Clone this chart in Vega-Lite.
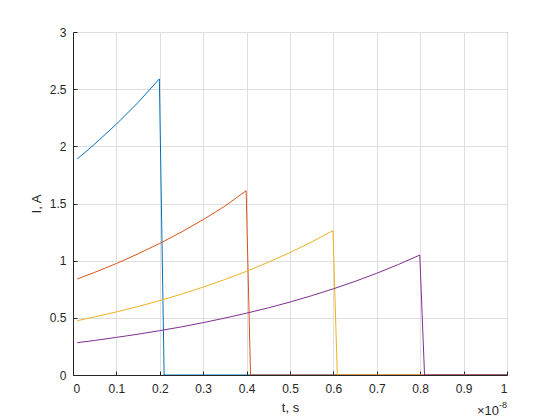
{
  "$schema": "https://vega.github.io/schema/vega-lite/v6.json",
  "width": 434,
  "height": 343,
  "autosize": {"type": "none"},
  "padding": {"left": 73, "top": 32, "right": 53, "bottom": 45},
  "background": "white",
  "config": {
    "font": "Liberation Sans",
    "view": {"stroke": "#262626", "strokeWidth": 1},
    "axis": {
      "domainColor": "#262626",
      "tickColor": "#262626",
      "labelColor": "#262626",
      "titleColor": "#262626",
      "gridColor": "#dfdfdf",
      "labelFontSize": 12,
      "titleFontSize": 13,
      "titleFontWeight": "normal",
      "tickSize": -4
    }
  },
  "datasets": {
    "curves": [
      {"t": 0.01, "I": 1.89, "s": "a"},
      {"t": 0.05, "I": 2.02, "s": "a"},
      {"t": 0.10, "I": 2.194, "s": "a"},
      {"t": 0.15, "I": 2.384, "s": "a"},
      {"t": 0.199, "I": 2.59, "s": "a"},
      {"t": 0.21, "I": 0, "s": "a"},
      {"t": 1.0, "I": 0, "s": "a"},
      {"t": 0.01, "I": 0.84, "s": "b"},
      {"t": 0.05, "I": 0.898, "s": "b"},
      {"t": 0.10, "I": 0.975, "s": "b"},
      {"t": 0.15, "I": 1.06, "s": "b"},
      {"t": 0.20, "I": 1.151, "s": "b"},
      {"t": 0.25, "I": 1.251, "s": "b"},
      {"t": 0.30, "I": 1.359, "s": "b"},
      {"t": 0.35, "I": 1.477, "s": "b"},
      {"t": 0.399, "I": 1.612, "s": "b"},
      {"t": 0.409, "I": 0, "s": "b"},
      {"t": 1.0, "I": 0, "s": "b"},
      {"t": 0.01, "I": 0.475, "s": "c"},
      {"t": 0.05, "I": 0.508, "s": "c"},
      {"t": 0.10, "I": 0.552, "s": "c"},
      {"t": 0.15, "I": 0.599, "s": "c"},
      {"t": 0.20, "I": 0.651, "s": "c"},
      {"t": 0.25, "I": 0.707, "s": "c"},
      {"t": 0.30, "I": 0.769, "s": "c"},
      {"t": 0.35, "I": 0.835, "s": "c"},
      {"t": 0.40, "I": 0.907, "s": "c"},
      {"t": 0.45, "I": 0.986, "s": "c"},
      {"t": 0.50, "I": 1.071, "s": "c"},
      {"t": 0.55, "I": 1.164, "s": "c"},
      {"t": 0.599, "I": 1.263, "s": "c"},
      {"t": 0.609, "I": 0, "s": "c"},
      {"t": 1.0, "I": 0, "s": "c"},
      {"t": 0.01, "I": 0.283, "s": "d"},
      {"t": 0.05, "I": 0.302, "s": "d"},
      {"t": 0.10, "I": 0.329, "s": "d"},
      {"t": 0.15, "I": 0.357, "s": "d"},
      {"t": 0.20, "I": 0.388, "s": "d"},
      {"t": 0.25, "I": 0.421, "s": "d"},
      {"t": 0.30, "I": 0.458, "s": "d"},
      {"t": 0.35, "I": 0.498, "s": "d"},
      {"t": 0.40, "I": 0.541, "s": "d"},
      {"t": 0.45, "I": 0.587, "s": "d"},
      {"t": 0.50, "I": 0.638, "s": "d"},
      {"t": 0.55, "I": 0.694, "s": "d"},
      {"t": 0.60, "I": 0.754, "s": "d"},
      {"t": 0.65, "I": 0.819, "s": "d"},
      {"t": 0.70, "I": 0.89, "s": "d"},
      {"t": 0.75, "I": 0.967, "s": "d"},
      {"t": 0.799, "I": 1.049, "s": "d"},
      {"t": 0.81, "I": 0, "s": "d"},
      {"t": 1.0, "I": 0, "s": "d"}
    ],
    "exponent": [
      {"t": 1.0, "I": 0, "base": "×10", "exp": "-8"}
    ]
  },
  "layer": [
    {
      "data": {"name": "curves"},
      "mark": {"type": "line", "strokeWidth": 1, "clip": true},
      "encoding": {
        "x": {
          "field": "t", "type": "quantitative",
          "scale": {"domain": [0, 1], "nice": false},
          "axis": {"values": [0, 0.1, 0.2, 0.3, 0.4, 0.5, 0.6, 0.7, 0.8, 0.9, 1], "format": "~g", "title": "t, s", "grid": true, "labelPadding": 12, "titlePadding": 7}
        },
        "y": {
          "field": "I", "type": "quantitative",
          "scale": {"domain": [0, 3], "nice": false},
          "axis": {"values": [0, 0.5, 1, 1.5, 2, 2.5, 3], "format": "~g", "title": "I, A", "grid": true, "labelPadding": 11, "titlePadding": 6}
        },
        "color": {
          "field": "s", "type": "nominal",
          "scale": {"domain": ["a", "b", "c", "d"], "range": ["#0072BD", "#D95319", "#EDB120", "#7E2F8E"]},
          "legend": null
        }
      }
    },
    {
      "data": {"name": "exponent"},
      "mark": {"type": "text", "align": "right", "baseline": "middle", "dy": 36, "dx": -8, "fontSize": 13, "color": "#262626"},
      "encoding": {
        "x": {"field": "t", "type": "quantitative"},
        "y": {"field": "I", "type": "quantitative"},
        "text": {"field": "base"}
      }
    },
    {
      "data": {"name": "exponent"},
      "mark": {"type": "text", "align": "left", "baseline": "middle", "dy": 30, "dx": -8, "fontSize": 9, "color": "#262626"},
      "encoding": {
        "x": {"field": "t", "type": "quantitative"},
        "y": {"field": "I", "type": "quantitative"},
        "text": {"field": "exp"}
      }
    }
  ]
}
